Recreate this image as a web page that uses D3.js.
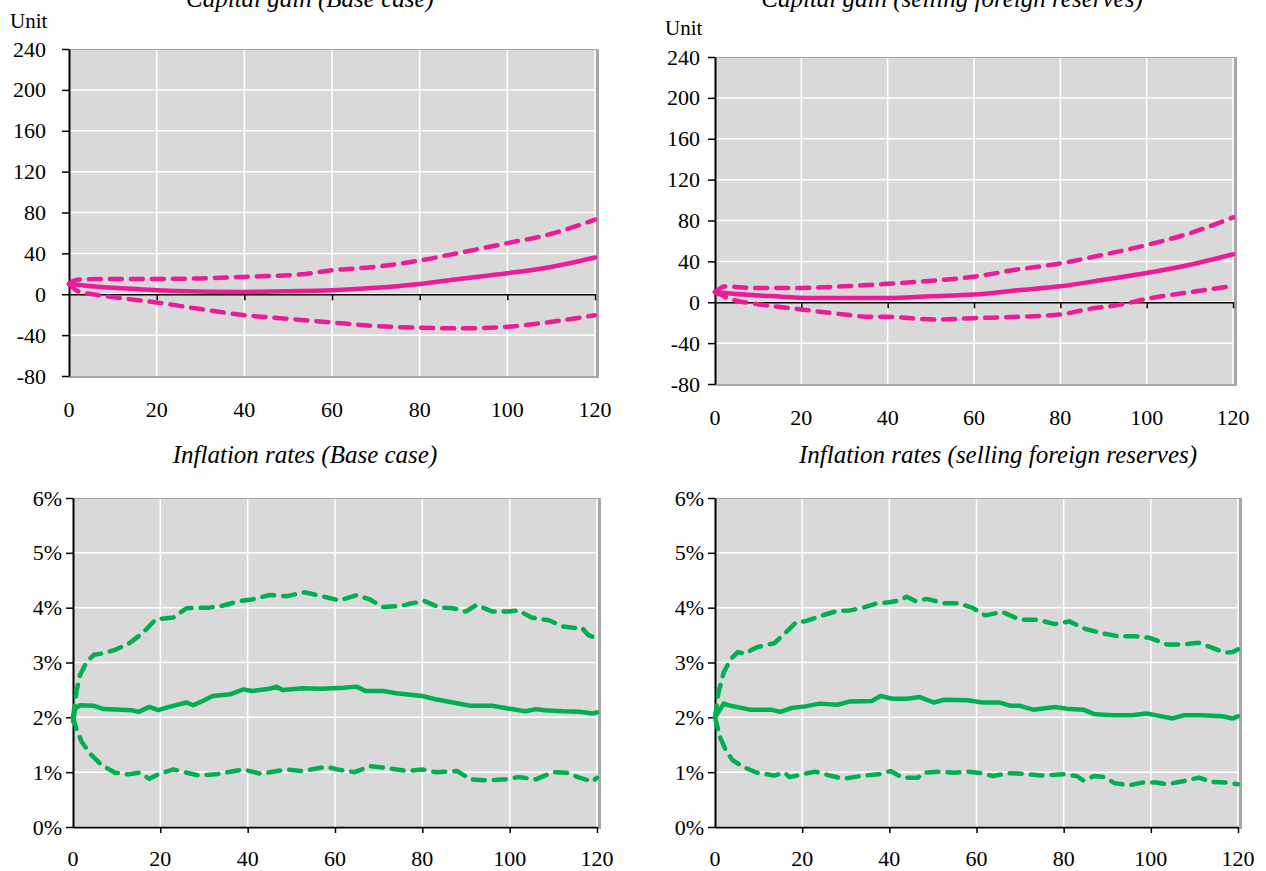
<!DOCTYPE html>
<html>
<head>
<meta charset="utf-8">
<script src="https://cdn.jsdelivr.net/npm/d3@7"></script>
<style>
  body { margin: 0; background: #fff; }
  svg { display: block; font-family: "Liberation Serif", "Times New Roman", serif; }
</style>
</head>
<body>
<svg id="chart" width="1266" height="871"></svg>
<script>
// ---- data (month, value) ----
const gainBaseUpper = [[0,10],[1,13],[3,14.6],[10,15],[20,15],[30,15.5],[40,17],[53,19.5],[60,23.5],[69,26.5],[80,33],[89,40.5],[100,50],[109,58],[120,73]];
const gainBaseMid   = [[0,10],[6,7.5],[16,5],[24,3.2],[40,2.3],[49,3],[60,4],[69,6],[80,10],[89,15],[100,20.5],[109,26],[120,36]];
const gainBaseLower = [[0,10],[2,3],[8,-1.6],[20,-8],[30,-14.5],[40,-20.5],[49,-23.7],[60,-27.6],[69,-30.8],[80,-32.8],[89,-33.4],[100,-31.8],[109,-27.6],[120,-20.5]];

const gainSellUpper = [[0,10],[1,13],[2,15.5],[9,14],[20,14],[30,15.6],[40,18],[50,21],[60,25],[70,32],[80,38],[90,46.5],[100,56],[110,67.5],[120,83]];
const gainSellMid   = [[0,10],[5,8],[13,6],[22,4.2],[40,4.2],[50,5.9],[60,7.5],[70,11.7],[80,15.6],[90,22],[100,28.6],[110,36.7],[120,47]];
const gainSellLower = [[0,10],[4,2.6],[9,-1.3],[20,-7],[30,-12],[36,-14.3],[40,-14.3],[51,-17],[60,-15.6],[70,-14.3],[80,-12],[86,-7],[94,-2.3],[100,3.3],[110,9.8],[120,16]];

const inflBaseUpper = [[0,2.0],[0.8,2.47],[1.6,2.77],[3.2,3.02],[4.8,3.14],[7,3.17],[9.6,3.23],[12.7,3.34],[16,3.54],[19,3.79],[23,3.82],[26,3.99],[31,4.0],[34,4.03],[38,4.12],[41,4.15],[45,4.23],[49,4.21],[53,4.28],[57,4.21],[61,4.13],[65,4.23],[68,4.15],[71,4.01],[75,4.03],[77,4.07],[80.5,4.12],[84,4.0],[87,3.99],[90,3.93],[92.4,4.05],[96,3.93],[99.6,3.93],[102,3.95],[105,3.82],[109,3.77],[112,3.66],[115,3.63],[116.5,3.64],[118,3.5],[120,3.44]];
const inflBaseMid   = [[0,1.92],[0.5,2.16],[1.6,2.22],[4.8,2.21],[7,2.15],[13.5,2.13],[15,2.1],[17.5,2.19],[19.5,2.13],[22,2.19],[26,2.27],[27.5,2.22],[30,2.31],[32,2.39],[36,2.42],[39,2.51],[41,2.48],[45,2.52],[46.6,2.56],[48,2.5],[52.6,2.53],[57,2.52],[62,2.54],[65,2.56],[67,2.48],[71,2.48],[74,2.44],[80,2.39],[83,2.33],[87,2.27],[91,2.21],[96,2.21],[99.6,2.16],[103.6,2.11],[106,2.15],[108,2.13],[112,2.11],[116,2.1],[119,2.07],[120,2.09]];
const inflBaseLower = [[0,2.0],[0.8,1.79],[2,1.55],[4,1.33],[6.4,1.14],[9.6,0.99],[12.7,0.96],[15,0.99],[17.5,0.88],[19.5,0.96],[23,1.05],[28.7,0.94],[32.7,0.96],[39,1.05],[43,0.97],[49,1.05],[52.6,1.02],[58,1.1],[60.5,1.05],[64.5,1.0],[68,1.11],[71.7,1.08],[76.5,1.02],[80,1.05],[83,1.0],[88,1.02],[91,0.87],[95,0.85],[99,0.87],[102,0.91],[106,0.87],[110,1.0],[113,0.99],[116,0.9],[119,0.83],[120,0.9]];

const inflSellUpper = [[0,2.0],[0.8,2.45],[2,2.82],[3.6,3.06],[5.2,3.19],[6.8,3.16],[9.6,3.28],[13.6,3.35],[16,3.53],[18.7,3.74],[20.7,3.75],[24.7,3.86],[28,3.94],[31,3.95],[34,4.0],[36.7,4.07],[40,4.1],[42.3,4.13],[44,4.2],[46,4.12],[48.6,4.16],[52.6,4.08],[55.8,4.08],[59,4.0],[62,3.86],[66,3.92],[70,3.78],[74,3.78],[78,3.7],[81.3,3.75],[85,3.61],[89,3.53],[92.5,3.48],[96.5,3.48],[99.7,3.45],[103.7,3.33],[107.7,3.33],[111,3.36],[114,3.27],[117,3.18],[118.8,3.19],[120,3.24]];
const inflSellMid   = [[0,2.0],[2,2.25],[3.6,2.21],[8,2.14],[12.8,2.14],[15,2.1],[17.5,2.17],[20.7,2.2],[24,2.25],[28,2.23],[31,2.29],[36,2.3],[38,2.39],[40.7,2.34],[44,2.34],[47,2.37],[50.2,2.27],[52.6,2.32],[58,2.31],[61.4,2.27],[65.4,2.27],[67.8,2.21],[70,2.21],[73,2.14],[78,2.19],[81.3,2.15],[84.5,2.14],[87,2.06],[91,2.04],[95.7,2.04],[99,2.07],[101,2.04],[105,1.98],[107.7,2.04],[111.6,2.04],[116.4,2.02],[118.8,1.98],[120,2.02]];
const inflSellLower = [[0,2.0],[1.2,1.63],[2.4,1.41],[4,1.22],[6.4,1.1],[9.6,0.99],[13.6,0.94],[16,0.99],[17.1,0.91],[20,0.96],[23,1.01],[26.3,0.94],[29.5,0.88],[34.3,0.94],[37.5,0.96],[40.3,1.02],[43,0.9],[46.6,0.9],[47.8,0.99],[51.8,1.01],[55,0.99],[58,1.01],[61.4,0.98],[63.8,0.93],[67,0.98],[71,0.97],[75,0.94],[80,0.96],[83,0.93],[84.5,0.85],[87,0.93],[89.3,0.91],[91.7,0.8],[95,0.76],[98,0.81],[101.3,0.81],[103.7,0.78],[107.7,0.84],[111,0.9],[114,0.82],[117.5,0.81],[120,0.78]];

const xTicks = [0, 20, 40, 60, 80, 100, 120];
const gainTicks = [-80, -40, 0, 40, 80, 120, 160, 200, 240];
const inflTicks = [0, 0.01, 0.02, 0.03, 0.04, 0.05, 0.06];

const titles = ["Capital gain (Base case)", "Capital gain (selling foreign reserves)",
                "Inflation rates (Base case)", "Inflation rates (selling foreign reserves)"];

const PINK = "#ec1c99", GREEN = "#00b050";

const svg = d3.select("#chart");

// one panel per chart
function drawPanel(p) {
    const x = d3.scaleLinear().domain([0, 120]).range([p.left, p.right]);
    const y = d3.scaleLinear().domain(p.domain).range([p.bottom, p.top]);
    const g = svg.append("g");

    // plot area with excel-like shadow on right/bottom
    g.append("rect")
        .attr("x", p.left).attr("y", p.top)
        .attr("width", p.right - p.left + 4).attr("height", p.bottom - p.top + 2)
        .attr("fill", "#a6a6a6");
    g.append("rect")
        .attr("x", p.left).attr("y", p.top + 1)
        .attr("width", p.right - p.left + 1).attr("height", p.bottom - p.top - 1)
        .attr("fill", "#d9d9d9");

    // gridlines
    g.selectAll(".hgrid").data(p.ticks.slice(1, -1))
        .join("line")
        .attr("x1", p.left).attr("x2", p.right + 1)
        .attr("y1", d => y(d)).attr("y2", d => y(d))
        .attr("stroke", "#fff").attr("stroke-width", 1.5);
    g.selectAll(".vgrid").data(xTicks.slice(1))
        .join("line")
        .attr("x1", d => x(d)).attr("x2", d => x(d))
        .attr("y1", p.top + 1).attr("y2", p.bottom)
        .attr("stroke", "#fff").attr("stroke-width", 1.5);

    // y axis
    const yAxis = d3.axisLeft(y).tickValues(p.ticks).tickSize(7).tickSizeOuter(0)
        .tickFormat(p.fmt);
    const ya = g.append("g").attr("transform", `translate(${p.left},0)`).call(yAxis);
    ya.attr("font-family", null).attr("font-size", null);
    ya.select(".domain").attr("stroke", "#000").attr("stroke-width", 2);
    ya.selectAll(".tick line").attr("stroke", "#000").attr("stroke-width", 1.5);
    ya.selectAll(".tick text")
        .attr("x", -p.labelGap)
        .attr("fill", "#000")
        .style("font-size", "22px");

    // x axis line (at zero)
    const xAxis = d3.axisBottom(x).tickValues(xTicks).tickSize(6).tickSizeOuter(0).tickFormat("");
    const xa = g.append("g").attr("transform", `translate(0,${y(p.domain[0] < 0 ? 0 : p.domain[0])})`).call(xAxis);
    xa.select(".domain").attr("stroke", "#000").attr("stroke-width", 1.5);
    xa.selectAll(".tick line").attr("stroke", "#000").attr("stroke-width", 1.5);
    xa.selectAll(".tick").filter(d => d === 0).remove();

    // x tick labels under the plot
    g.selectAll(".xlab").data(xTicks)
        .join("text")
        .attr("x", d => x(d)).attr("y", p.xLabelY)
        .attr("text-anchor", "middle")
        .style("font-size", "22px")
        .text(d => d);

    // series
    const line = d3.line().x(d => x(d[0])).y(d => y(d[1])).curve(p.curve);
    p.series.forEach(s => {
        g.append("path")
            .datum(s.data)
            .attr("d", line)
            .attr("fill", "none")
            .attr("stroke", p.color)
            .attr("stroke-width", 4.5)
            .attr("stroke-linecap", "round")
            .attr("stroke-linejoin", "round")
            .attr("stroke-dasharray", s.dashed ? "12,9" : null);
    });

    // title
    svg.append("text")
        .attr("x", p.titleX).attr("y", p.titleY)
        .attr("text-anchor", "middle")
        .style("font-size", "25px")
        .style("font-style", "italic")
        .text(p.title);

    if (p.unitY) {
        svg.append("text")
            .attr("x", p.unitX).attr("y", p.unitY)
            .style("font-size", "21px")
            .text("Unit");
    }
}

const pct = d => d3.format(".0%")(d);

drawPanel({
    left: 69, right: 595, top: 49, bottom: 376, domain: [-80, 240], ticks: gainTicks,
    fmt: d => d, labelGap: 23, xLabelY: 417, color: PINK, curve: d3.curveMonotoneX,
    series: [{data: gainBaseUpper, dashed: true}, {data: gainBaseLower, dashed: true}, {data: gainBaseMid}],
    title: titles[0], titleX: 310, titleY: 7, unitX: 10, unitY: 28
});
drawPanel({
    left: 715, right: 1233, top: 57, bottom: 384, domain: [-80, 240], ticks: gainTicks,
    fmt: d => d, labelGap: 15, xLabelY: 425, color: PINK, curve: d3.curveMonotoneX,
    series: [{data: gainSellUpper, dashed: true}, {data: gainSellLower, dashed: true}, {data: gainSellMid}],
    title: titles[1], titleX: 952, titleY: 7, unitX: 665, unitY: 35
});
drawPanel({
    left: 73, right: 597, top: 498, bottom: 827, domain: [0, 0.06], ticks: inflTicks,
    fmt: pct, labelGap: 11, xLabelY: 866, color: GREEN, curve: d3.curveLinear,
    series: [{data: inflBaseUpper.map(d => [d[0], d[1] / 100]), dashed: true},
             {data: inflBaseLower.map(d => [d[0], d[1] / 100]), dashed: true},
             {data: inflBaseMid.map(d => [d[0], d[1] / 100])}],
    title: titles[2], titleX: 305, titleY: 463
});
drawPanel({
    left: 715, right: 1238, top: 498, bottom: 827, domain: [0, 0.06], ticks: inflTicks,
    fmt: pct, labelGap: 11, xLabelY: 866, color: GREEN, curve: d3.curveLinear,
    series: [{data: inflSellUpper.map(d => [d[0], d[1] / 100]), dashed: true},
             {data: inflSellLower.map(d => [d[0], d[1] / 100]), dashed: true},
             {data: inflSellMid.map(d => [d[0], d[1] / 100])}],
    title: titles[3], titleX: 998, titleY: 463
});
</script>
</body>
</html>
